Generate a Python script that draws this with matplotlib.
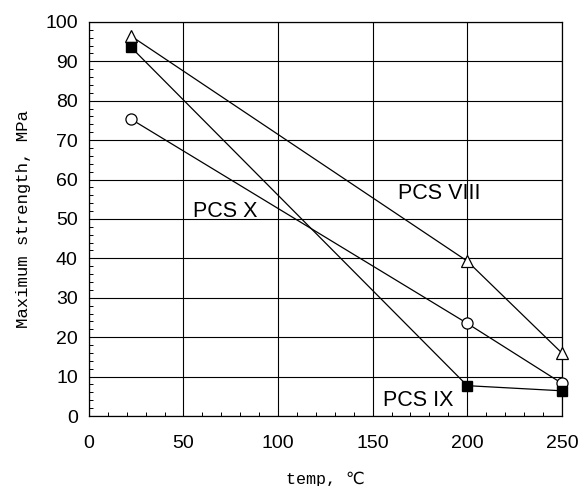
import matplotlib
matplotlib.use("Agg")
import matplotlib.pyplot as plt
from matplotlib.ticker import MultipleLocator

# data
temp = [22, 200, 250]
pcs_viii = [96.5, 39.3, 16.0]
pcs_ix = [93.7, 7.7, 6.4]
pcs_x = [75.4, 23.5, 8.3]

series_names = ["PCS VIII", "PCS IX", "PCS X"]
label_pos = [(185, 56.5), (174, 4.0), (72, 52.0)]

x_ticks = [0, 50, 100, 150, 200, 250]
y_ticks = [0, 10, 20, 30, 40, 50, 60, 70, 80, 90, 100]

sans = ["Liberation Sans", "DejaVu Sans"]
mono = ["Liberation Mono", "DejaVu Sans Mono", "DejaVu Sans"]

fig = plt.figure(figsize=(5.81, 4.86), dpi=100)
ax = fig.add_axes([0.153, 0.144, 0.814, 0.811])

ax.plot(temp, pcs_viii, color="black", lw=0.9, marker="^", ms=8,
        mfc="white", mec="black", mew=0.9, zorder=3, clip_on=False)
ax.plot(temp, pcs_x, color="black", lw=0.9, marker="o", ms=8,
        mfc="white", mec="black", mew=0.9, zorder=3, clip_on=False)
ax.plot(temp, pcs_ix, color="black", lw=0.9, marker="s", ms=7,
        mfc="black", mec="black", zorder=4, clip_on=False)

for name, (lx, ly) in zip(series_names, label_pos):
    ax.text(lx, ly, name, ha="center", va="center", fontsize=15.5,
            family=sans, color="black")

ax.set_xlim(0, 250)
ax.set_ylim(0, 100)
ax.set_xticks(x_ticks)
ax.set_yticks(y_ticks)
ax.xaxis.set_minor_locator(MultipleLocator(10))
ax.yaxis.set_minor_locator(MultipleLocator(2))
ax.tick_params(which="both", direction="in", top=False, right=False)
ax.tick_params(which="major", length=0, labelsize=14)
ax.tick_params(axis="x", which="major", pad=14)
ax.tick_params(axis="y", which="major", pad=8)
ax.tick_params(which="minor", length=3, width=0.7)
for lbl in ax.get_xticklabels() + ax.get_yticklabels():
    lbl.set_family(sans)

ax.grid(True, which="major", color="black", lw=0.8)
for sp in ax.spines.values():
    sp.set_linewidth(0.9)

ax.set_xlabel("temp, ℃", family=mono, fontsize=12, labelpad=14)
ax.set_ylabel("Maximum strength, MPa", family=mono, fontsize=12.5, labelpad=10)

fig.savefig("out.png", dpi=100)
